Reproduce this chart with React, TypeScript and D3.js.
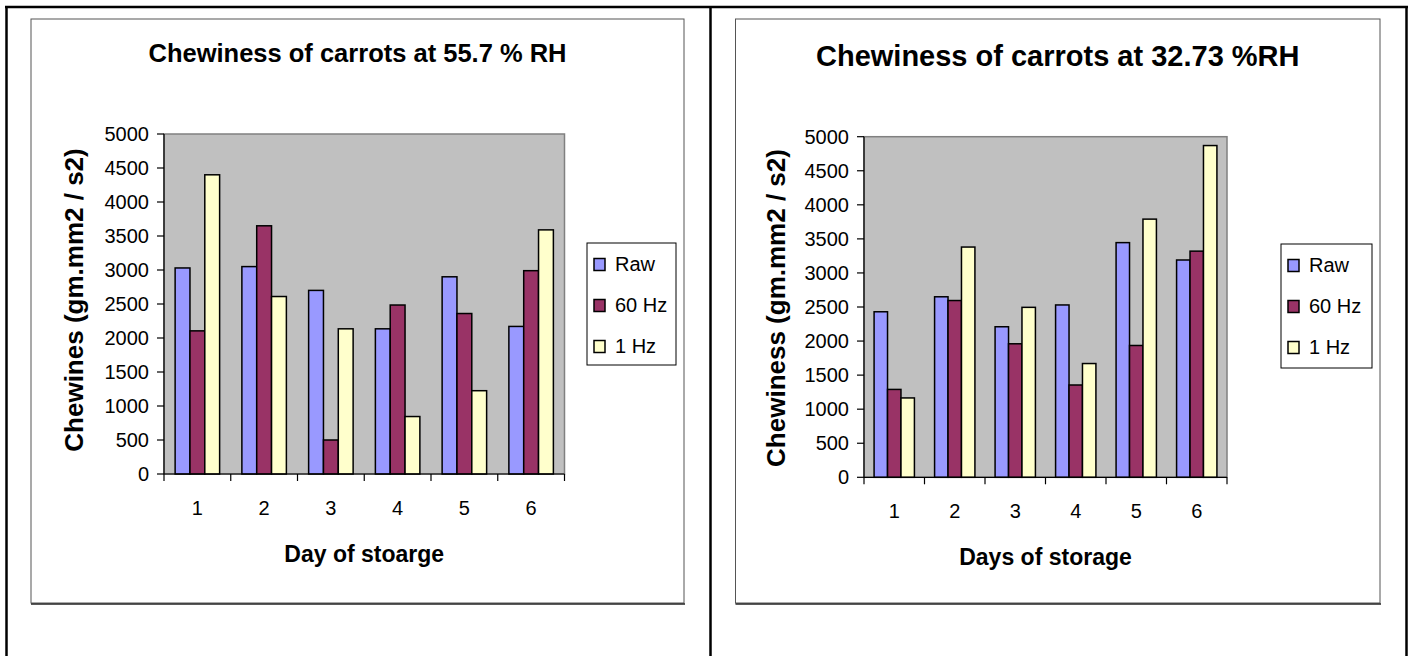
import React from "react";
import * as d3 from "d3";

// Storage days on the x axis
const days = ["1", "2", "3", "4", "5", "6"];
const seriesNames = ["Raw", "60 Hz", "1 Hz"];
const seriesColors = ["#9999FF", "#993366", "#FFFFCC"];
const yTicks = [0, 500, 1000, 1500, 2000, 2500, 3000, 3500, 4000, 4500, 5000];

// Chewiness at 55.7 % RH
const rh557Raw = [3030, 3050, 2700, 2135, 2900, 2170];
const rh557Hz60 = [2105, 3650, 500, 2485, 2360, 2990];
const rh557Hz1 = [4400, 2610, 2135, 845, 1225, 3590];

// Chewiness at 32.73 % RH
const rh3273Raw = [2430, 2650, 2210, 2530, 3445, 3190];
const rh3273Hz60 = [1290, 2595, 1960, 1355, 1935, 3320];
const rh3273Hz1 = [1165, 3380, 2495, 1670, 3790, 4870];

const FONT = "'Liberation Sans', Arial, sans-serif";

type PanelProps = {
  box: [number, number, number, number];
  plot: [number, number, number, number];
  title: string;
  titleSize: number;
  titleY: number;
  yTitle: string;
  yTitleX: number;
  yTitleY: number;
  xTitle: string;
  legend: [number, number, number, number];
  values: number[][];
};

function Panel(p: PanelProps) {
  const [bx0, by0, bx1, by1] = p.box;
  const [px0, py0, px1, py1] = p.plot;
  const x = d3.scaleBand<string>().domain(days).range([px0, px1]).paddingInner(0).paddingOuter(0);
  const xs = d3
    .scaleBand<string>()
    .domain(seriesNames)
    .range([0, x.bandwidth()])
    .paddingInner(0)
    .paddingOuter(0.75);
  const y = d3.scaleLinear().domain([0, 5000]).range([py1, py0]);
  const [lx0, ly0, lx1, ly1] = p.legend;
  const tickEdges = [...days.map((d) => x(d) as number), px1];

  return (
    <g>
      {/* chart area */}
      <rect x={bx0} y={by0} width={bx1 - bx0} height={by1 - by0} fill="#fff" stroke="#555" strokeWidth={1} />
      <line x1={bx0} x2={bx1 + 1} y1={by1 + 1} y2={by1 + 1} stroke="#222" strokeWidth={1.5} />
      <text
        x={(bx0 + bx1) / 2}
        y={p.titleY}
        textAnchor="middle"
        fontFamily={FONT}
        fontWeight="bold"
        fontSize={p.titleSize}
      >
        {p.title}
      </text>

      {/* plot area */}
      <rect x={px0} y={py0} width={px1 - px0} height={py1 - py0} fill="#C0C0C0" stroke="#808080" strokeWidth={1.5} />

      {/* bars */}
      {p.values.map((vals, si) =>
        vals.map((v, di) => (
          <rect
            key={`${si}-${di}`}
            x={(x(days[di]) as number) + (xs(seriesNames[si]) as number)}
            y={y(v)}
            width={xs.bandwidth()}
            height={y(0) - y(v)}
            fill={seriesColors[si]}
            stroke="#000"
            strokeWidth={1.5}
          />
        ))
      )}

      {/* y axis */}
      <line x1={px0} x2={px0} y1={py0} y2={py1} stroke="#000" strokeWidth={1.2} />
      {yTicks.map((t) => (
        <g key={t}>
          <line x1={px0 - 7} x2={px0} y1={y(t)} y2={y(t)} stroke="#000" strokeWidth={1.2} />
          <text
            x={px0 - 15}
            y={y(t)}
            dy="0.35em"
            textAnchor="end"
            fontFamily={FONT}
            fontSize={20}
          >
            {t}
          </text>
        </g>
      ))}

      {/* x axis */}
      <line x1={px0} x2={px1} y1={py1} y2={py1} stroke="#000" strokeWidth={1.2} />
      {tickEdges.map((tx, i) => (
        <line key={i} x1={tx} x2={tx} y1={py1} y2={py1 + 7} stroke="#000" strokeWidth={1.2} />
      ))}
      {days.map((d) => (
        <text
          key={d}
          x={(x(d) as number) + x.bandwidth() / 2}
          y={py1 + 41}
          textAnchor="middle"
          fontFamily={FONT}
          fontSize={20}
        >
          {d}
        </text>
      ))}

      <text
        x={(px0 + px1) / 2}
        y={py1 + 88}
        textAnchor="middle"
        fontFamily={FONT}
        fontWeight="bold"
        fontSize={23}
      >
        {p.xTitle}
      </text>
      <text
        transform={`translate(${p.yTitleX},${p.yTitleY}) rotate(-90)`}
        textAnchor="middle"
        fontFamily={FONT}
        fontWeight="bold"
        fontSize={26}
      >
        {p.yTitle}
      </text>

      {/* legend */}
      <rect x={lx0} y={ly0} width={lx1 - lx0} height={ly1 - ly0} fill="#fff" stroke="#000" strokeWidth={1} />
      {seriesNames.map((s, i) => {
        const base = ly0 + 27.5 + i * 41;
        return (
          <g key={s}>
            <rect
              x={lx0 + 7}
              y={base - 12}
              width={11}
              height={12}
              fill={seriesColors[i]}
              stroke="#000"
              strokeWidth={1.5}
            />
            <text x={lx0 + 28} y={base} fontFamily={FONT} fontSize={20}>
              {s}
            </text>
          </g>
        );
      })}
    </g>
  );
}

export default function App() {
  return (
    <svg
      width={1413}
      height={656}
      style={{ position: "absolute", left: 0, top: 0, background: "#fff" }}
    >
      <rect x={0} y={0} width={1413} height={656} fill="#fff" />
      {/* table frame */}
      <line x1={5} x2={1408} y1={7} y2={7} stroke="#000" strokeWidth={2.5} />
      <line x1={6.5} x2={6.5} y1={6} y2={656} stroke="#000" strokeWidth={2.5} />
      <line x1={710.5} x2={710.5} y1={6} y2={656} stroke="#000" strokeWidth={2.5} />
      <line x1={1406.5} x2={1406.5} y1={6} y2={656} stroke="#000" strokeWidth={2.5} />

      <Panel
        box={[31, 19, 684, 603]}
        plot={[164, 134, 564.5, 474]}
        title="Chewiness of carrots at 55.7 % RH"
        titleSize={25.5}
        titleY={61.5}
        yTitle="Chewines (gm.mm2 / s2)"
        yTitleX={83}
        yTitleY={300}
        xTitle="Day of stoarge"
        legend={[587, 243, 676, 365]}
        values={[rh557Raw, rh557Hz60, rh557Hz1]}
      />
      <Panel
        box={[735.5, 19, 1380, 603]}
        plot={[864, 136.7, 1227, 477.3]}
        title="Chewiness of carrots at 32.73 %RH"
        titleSize={29}
        titleY={66}
        yTitle="Chewiness (gm.mm2 / s2)"
        yTitleX={785}
        yTitleY={308}
        xTitle="Days of storage"
        legend={[1281, 244, 1372, 368]}
        values={[rh3273Raw, rh3273Hz60, rh3273Hz1]}
      />
    </svg>
  );
}
